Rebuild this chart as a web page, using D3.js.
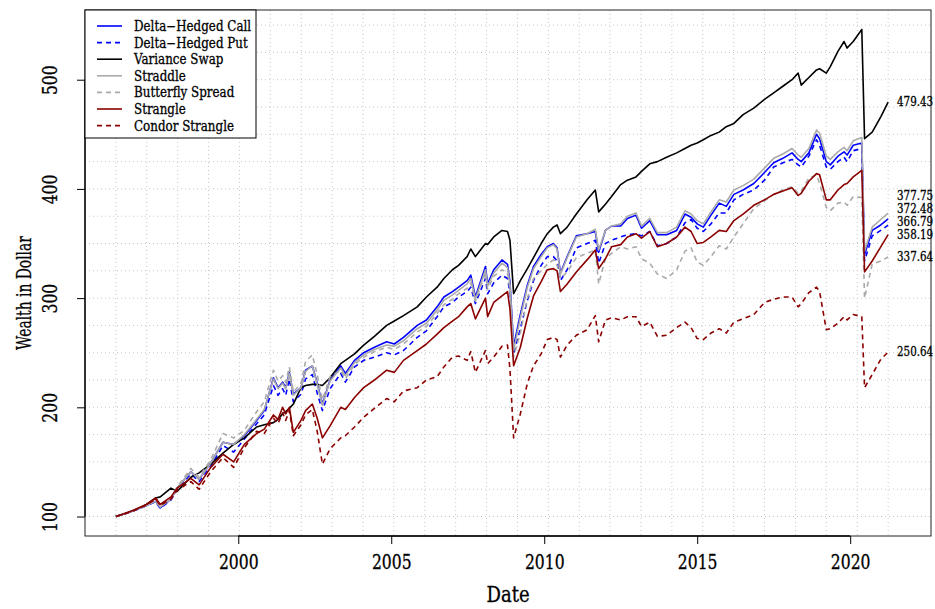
<!DOCTYPE html>
<html>
<head>
<meta charset="utf-8">
<script src="https://cdn.jsdelivr.net/npm/d3@7"></script>
<style>
  body { margin: 0; background: #fff; }
  text { font-family: "DejaVu Serif", "Liberation Serif", serif; fill: #000; stroke: #000; stroke-width: 0.3px; }
</style>
</head>
<body>
<svg id="chart" width="935" height="609"></svg>
<script>
// Month-end observation dates (decimal years)
const dates = [
  1996.0, 1996.3, 1996.6, 1997.0, 1997.3, 1997.45, 1997.8, 1998.0, 1998.45, 1998.72,
  1999.1, 1999.5, 1999.85, 2000.2, 2000.6, 2000.85, 2001.15, 2001.3, 2001.45, 2001.55,
  2001.67, 2001.8, 2002.05, 2002.2, 2002.42, 2002.58, 2002.75, 2003.0, 2003.35, 2003.5,
  2003.8, 2004.1, 2004.45, 2004.85, 2005.1, 2005.4, 2005.85, 2006.15, 2006.5, 2006.72,
  2007.0, 2007.2, 2007.48, 2007.6, 2007.75, 2008.08, 2008.15, 2008.35, 2008.62, 2008.8,
  2008.88, 2009.0, 2009.22, 2009.45, 2009.65, 2009.9, 2010.1, 2010.3, 2010.42, 2010.53,
  2010.75, 2011.05, 2011.4, 2011.67, 2011.78, 2012.0, 2012.2, 2012.5, 2012.72, 2013.0,
  2013.18, 2013.45, 2013.7, 2014.0, 2014.33, 2014.6, 2014.8, 2015.0, 2015.2, 2015.45,
  2015.72, 2015.95, 2016.2, 2016.5, 2016.85, 2017.2, 2017.5, 2017.8, 2018.1, 2018.3,
  2018.4, 2018.65, 2018.9, 2019.0, 2019.22, 2019.35, 2019.6, 2019.8, 2019.9, 2020.1,
  2020.38, 2020.47, 2020.72, 2021.0, 2021.24
];

// Wealth of each strategy, starting from 100 dollars
const deltaHedgedCall = [
  100, 102.5, 105.5, 110, 114, 108, 116, 126, 141, 134,
  149, 168, 166, 174, 188, 197, 227, 218, 223, 218,
  232, 212, 218, 234, 238, 222, 203, 225, 238, 231,
  243, 250, 255, 260, 258, 264, 275, 280, 292, 301,
  306, 310, 316, 321, 301, 329, 313, 326, 335, 331,
  315, 256, 285, 312, 329, 340, 347, 350, 346, 323,
  338, 357, 359, 361, 342, 362, 366, 366, 373, 376,
  364, 371, 358, 358, 362, 377, 374, 368, 365, 376,
  387, 384, 395, 399, 405, 415, 424, 428, 433, 427,
  425, 433, 450, 446, 425, 422, 430, 434, 431, 440,
  442, 340, 362, 367, 372.48
];
const deltaHedgedPut = [
  100, 102.5, 105.5, 110, 113.5, 107.5, 115, 125, 139, 132,
  146, 165, 159, 171, 185, 193, 220, 211, 217, 211,
  226, 205, 212, 226, 230, 213, 197, 217, 231, 223,
  237, 243, 246, 250, 248, 252, 264, 270, 283, 292,
  296, 301, 306, 310, 295, 318, 304, 314, 321, 318,
  305, 249, 272, 298, 316, 330, 338, 338, 334, 316,
  326, 346, 350, 353, 332, 350, 353, 356, 358, 359,
  357, 361, 348, 350, 356, 369, 372, 364, 361, 368,
  378, 378, 390, 395, 399, 408, 420, 424, 427, 422,
  420, 430, 445, 440, 420, 418, 425, 429, 425, 435,
  437, 334, 357, 362, 366.79
];
const varianceSwap = [
  100, 102.5, 106, 111, 117, 118, 126, 123, 136, 140,
  148, 158, 166, 172, 182, 184, 186, 189, 194, 196,
  199, 203, 218, 220, 221, 221, 220, 227, 240, 243,
  249, 257, 265, 275, 279, 284, 292, 301, 310, 318,
  326, 330, 338, 345, 338, 350, 349, 356, 362, 361,
  353, 304, 316, 327, 337, 350, 359, 365, 367, 359,
  365, 377, 390, 399, 379, 386, 393, 404, 408, 411,
  416, 423, 425, 429, 433, 437, 440, 442, 445, 449,
  452, 457, 460, 468, 474, 482, 488, 494, 500, 506,
  495, 502, 509, 510, 506, 512, 526, 535, 529, 535,
  546, 446, 452, 466, 479.43
];
const straddle = [
  100, 102.5, 105.5, 110, 114, 108.5, 116, 126, 141, 134,
  149, 168, 166, 175, 189, 198, 226, 217, 222, 217,
  231, 211, 218, 233, 238, 221, 202, 224, 236, 229,
  241, 248, 253, 257, 256, 261, 272, 277, 289, 298,
  303, 307, 313, 318, 299, 326, 311, 323, 332, 328,
  312, 252, 282, 310, 327, 338, 346, 349, 345, 322,
  337, 356, 359, 363, 344, 362, 366, 368, 375, 378,
  366, 373, 360, 360, 365, 380, 377, 371, 368, 379,
  390, 388, 399, 403, 409, 419, 428, 432, 437, 431,
  429, 437, 454, 451, 430, 427, 434, 438, 435, 444,
  447, 343, 365, 372, 377.75
];
const butterflySpread = [
  100, 102.5, 105.5, 110.5, 115, 109, 117, 127, 144, 136,
  152, 176, 172, 179, 196, 205, 234, 224, 229, 223,
  237, 214, 222, 242, 248, 230, 207, 228, 234, 226,
  239, 246, 251, 255, 253, 258, 269, 274, 286, 294,
  299, 304, 309, 314, 297, 323, 308, 320, 326, 323,
  308, 246, 268, 300, 318, 325, 331, 335, 330, 318,
  324, 337, 341, 344, 313, 336, 341, 347, 345, 347,
  336, 332, 322, 318, 326, 343, 346, 333, 330, 338,
  348, 345, 356, 368, 382, 389, 395, 399, 402, 396,
  398, 410, 413, 405, 383, 380, 387, 388, 385, 393,
  392, 300, 331, 334, 337.64
];
const strangle = [
  100, 103, 106, 111, 117, 111, 118, 126, 135, 129,
  145, 157, 150, 166, 176, 180, 193, 189, 200, 194,
  200, 177, 188, 197, 203, 190, 172, 183, 200, 198,
  209, 218, 225, 234, 232, 243, 252, 258, 267, 273,
  279, 283, 292, 295, 281, 300, 283, 296, 302, 306,
  290, 238, 255, 282, 302, 315, 326, 327, 325, 306,
  313, 324, 335, 344, 327, 336, 347, 349, 356, 359,
  355, 361, 347, 350, 356, 365, 361, 350, 351, 356,
  362, 361, 371, 377, 385, 390, 395, 398, 401, 394,
  396, 407, 414, 413, 390, 390, 399, 404, 405, 411,
  417, 324, 334, 347, 358.19
];
const condorStrangle = [
  100, 102.5, 105.5, 110.5, 116, 110, 116, 124, 132, 125,
  141, 154, 145, 163, 178, 176, 190, 185, 195, 188,
  197, 174, 184, 193, 198, 178, 148, 162, 172, 174,
  182, 191, 199, 208, 205, 215, 218, 225, 228, 237,
  246, 247, 243, 251, 232, 252, 240, 246, 256, 257,
  235, 172, 194, 222, 238, 249, 262, 264, 262, 246,
  257, 266, 271, 284, 260, 280, 282, 280, 283, 283,
  274, 278, 265, 266, 273, 278, 273, 263, 262, 268,
  272, 268, 278, 281, 285, 296, 299, 301, 301, 292,
  295, 305, 310, 306, 271, 272, 277, 283, 280, 285,
  283, 218, 230, 244, 250.64
];

const seriesNames = [
  "Delta\u2212Hedged Call", "Delta\u2212Hedged Put", "Variance Swap", "Straddle",
  "Butterfly Spread", "Strangle", "Condor Strangle"
];
const seriesValues = [
  deltaHedgedCall, deltaHedgedPut, varianceSwap, straddle,
  butterflySpread, strangle, condorStrangle
];
const seriesColors = ["#0000FF", "#0000FF", "#000000", "#AAAAAA", "#AAAAAA", "#8B0000", "#8B0000"];
const seriesDashed = [false, true, false, false, true, false, true];

const xTickValues = [2000, 2005, 2010, 2015, 2020];
const yTickValues = [100, 200, 300, 400, 500];

const svg = d3.select("#chart");
// Data area and the (wider) frame that leaves room for end labels
const plot = { left: 85, right: 919, top: 10, bottom: 536 };
const frameRight = 931;

// R-style axis ranges: data extent padded by 4% on each side
function padded(ext) {
  const d = (ext[1] - ext[0]) * 0.04;
  return [ext[0] - d, ext[1] + d];
}
const allValues = seriesValues.flat();
const xDomain = padded(d3.extent(dates));
const yDomain = padded(d3.extent(allValues));
const x = d3.scaleLinear().domain(xDomain).range([plot.left, plot.right]);
const y = d3.scaleLinear().domain(yDomain).range([plot.bottom, plot.top]);

// Dotted background grid
const grid = svg.append("g").attr("stroke", "#C8C8C8").attr("stroke-width", 1)
  .attr("stroke-dasharray", "1,3");
const nGridX = 27;
for (let k = 1; k < nGridX; k++) {
  const gxv = xDomain[0] + k * (xDomain[1] - xDomain[0]) / nGridX;
  grid.append("line").attr("x1", x(gxv)).attr("x2", x(gxv))
    .attr("y1", plot.top).attr("y2", plot.bottom);
}
for (let v = 100; v <= 550; v += 25) {
  grid.append("line").attr("x1", plot.left).attr("x2", frameRight)
    .attr("y1", y(v)).attr("y2", y(v));
}

// Series lines
const line = d3.line().x((d, i) => x(dates[i])).y(d => y(d));
seriesValues.forEach((vals, i) => {
  svg.append("path").datum(vals)
    .attr("fill", "none")
    .attr("stroke", seriesColors[i])
    .attr("stroke-width", 1.6)
    .attr("stroke-linejoin", "round")
    .attr("stroke-dasharray", seriesDashed[i] ? "5,4" : null)
    .attr("d", line);
});

// Plot frame
svg.append("rect")
  .attr("x", plot.left).attr("y", plot.top)
  .attr("width", frameRight - plot.left).attr("height", plot.bottom - plot.top)
  .attr("fill", "none").attr("stroke", "#222").attr("stroke-width", 1);

// Axes (condensed serif labels)
const tickFont = 20, tickSqueeze = 0.78;
const xAxis = d3.axisBottom(x).tickValues(xTickValues).tickFormat(d3.format("d"))
  .tickSize(8).tickSizeOuter(0).tickPadding(11);
const gx = svg.append("g").attr("transform", `translate(0,${plot.bottom})`).call(xAxis);
gx.select(".domain").remove();
gx.append("line").attr("x1", x(xTickValues[0])).attr("x2", x(xTickValues[xTickValues.length - 1]))
  .attr("stroke", "#000").attr("stroke-width", 1.3);
gx.selectAll("text")
  .style("font-size", tickFont + "px")
  .attr("transform", `scale(${tickSqueeze},1)`);

const yAxis = d3.axisLeft(y).tickValues(yTickValues).tickFormat(d3.format("d"))
  .tickSize(8).tickSizeOuter(0).tickPadding(6);
const gy = svg.append("g").attr("transform", `translate(${plot.left},0)`).call(yAxis);
gy.select(".domain").remove();
gy.append("line").attr("y1", y(yTickValues[0])).attr("y2", y(yTickValues[yTickValues.length - 1]))
  .attr("stroke", "#000").attr("stroke-width", 1.3);
gy.selectAll("text")
  .style("font-size", tickFont + "px")
  .attr("text-anchor", "middle")
  .attr("dy", null)
  .attr("x", null)
  .attr("transform", `translate(-28,0) rotate(-90) scale(${tickSqueeze},1)`);
[gx, gy].forEach(g => g.selectAll(".tick line").attr("stroke", "#000"));

// Axis titles
svg.append("text").attr("transform", "translate(508,602) scale(0.84,1)")
  .attr("text-anchor", "middle").style("font-size", "21.5px").text("Date");
svg.append("text")
  .attr("transform", "translate(31,293) rotate(-90) scale(0.66,1)")
  .attr("text-anchor", "middle").style("font-size", "21px").text("Wealth in Dollar");

// Final-value labels, nudged apart so they do not overlap
const last = seriesValues.map((v, i) => ({ v: v[v.length - 1], i }));
last.sort((a, b) => a.v - b.v);
const minGap = 13;
let prevY = Infinity;
last.forEach(d => {
  let py = y(d.v);
  if (py > prevY - minGap) py = prevY - minGap;
  d.py = py;
  prevY = py;
});
svg.append("g").selectAll("text").data(last).join("text")
  .attr("transform", d => `translate(897,${d.py}) scale(0.86,1)`)
  .attr("dy", "0.36em")
  .style("font-size", "12px")
  .text(d => d.v.toFixed(2));

// Legend
const legend = svg.append("g");
legend.append("rect").attr("x", 85).attr("y", 10).attr("width", 171).attr("height", 128)
  .attr("fill", "#fff").attr("stroke", "#000").attr("stroke-width", 1);
seriesNames.forEach((name, i) => {
  const ly = 26 + i * 16.6;
  legend.append("line").attr("x1", 97).attr("x2", 122).attr("y1", ly).attr("y2", ly)
    .attr("stroke", seriesColors[i]).attr("stroke-width", 1.6)
    .attr("stroke-dasharray", seriesDashed[i] ? "5,4" : null);
  legend.append("text").attr("transform", `translate(134,${ly}) scale(0.85,1)`)
    .attr("dy", "0.36em")
    .style("font-size", "14px").text(name);
});
</script>
</body>
</html>
